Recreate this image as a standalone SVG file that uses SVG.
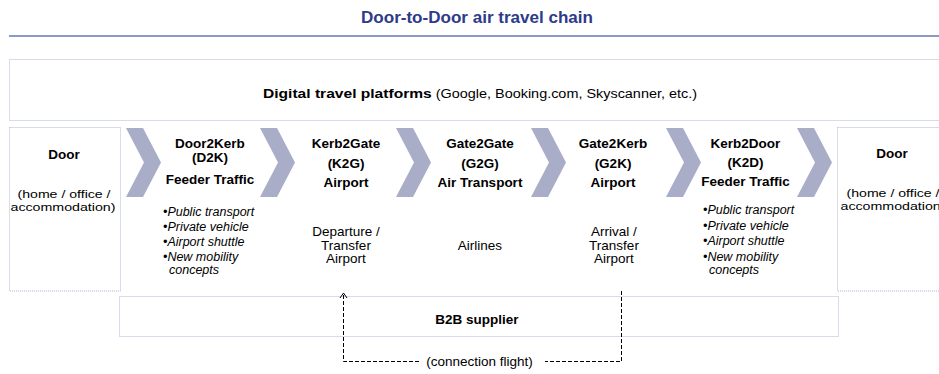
<svg xmlns="http://www.w3.org/2000/svg" width="939" height="374" viewBox="0 0 939 374">
<style>
text{font-family:"Liberation Sans",Arial,sans-serif;fill:#000}
.title{font-size:16px;font-weight:bold;fill:#2E3A8A}
.h{font-size:13.5px;font-weight:bold;text-anchor:middle}
.r{font-size:13.5px;text-anchor:middle}
.d{font-size:11.5px;text-anchor:middle}
.b{font-size:12.5px;font-style:italic}
.box{fill:none;stroke:#AEB7D6;stroke-width:1;stroke-dasharray:1 1}
.chev{fill:#A9ADC8}
.dash{fill:none;stroke:#000;stroke-width:1;stroke-dasharray:4 2}
</style>
<defs>
<marker id="open" markerWidth="10" markerHeight="10" refX="9" refY="5" orient="auto" markerUnits="userSpaceOnUse" viewBox="0 0 10 10">
<polyline points="4,1.5 9,5 4,8.5" fill="none" stroke="#000" stroke-width="1"/>
</marker>
</defs>

<g id="title">
<text class="title" x="477" y="22.5" text-anchor="middle" textLength="232" lengthAdjust="spacingAndGlyphs">Door-to-Door air travel chain</text>
<line x1="9" y1="36" x2="939" y2="36" stroke="#8C99C8" stroke-width="2"/>
</g>

<g id="digital">
<rect class="box" x="9.5" y="59.5" width="940" height="61"/>
<text x="263" y="97.5" font-size="12.5" textLength="434" lengthAdjust="spacingAndGlyphs"><tspan font-weight="bold" font-size="13.5">Digital travel platforms</tspan> (Google, Booking.com, Skyscanner, etc.)</text>
</g>

<g id="door-left">
<rect class="box" x="9.5" y="127.5" width="111" height="163.5"/>
<text class="h" x="64" y="159">Door</text>
<text class="d" x="64" y="197.5" textLength="93" lengthAdjust="spacingAndGlyphs">(home / office /</text>
<text class="d" x="63" y="210.5" textLength="105" lengthAdjust="spacingAndGlyphs">accommodation)</text>
</g>

<g id="chevrons">
<polygon class="chev" points="126,128 143,128 161,162.5 143,197 126,197 144,162.5"/>
<polygon class="chev" points="260,128 277,128 295,162.5 277,197 260,197 278,162.5"/>
<polygon class="chev" points="396,128 413,128 431,162.5 413,197 396,197 414,162.5"/>
<polygon class="chev" points="531,128 548,128 566,162.5 548,197 531,197 549,162.5"/>
<polygon class="chev" points="666,128 683,128 701,162.5 683,197 666,197 684,162.5"/>
<polygon class="chev" points="797,128 814,128 832,162.5 814,197 797,197 815,162.5"/>
</g>

<g id="d2k">
<text class="h" x="210" y="148">Door2Kerb</text>
<text class="h" x="210" y="162">(D2K)</text>
<text class="h" x="210" y="184">Feeder Traffic</text>
<text class="b" x="163" y="216">•Public transport</text>
<text class="b" x="163" y="231">•Private vehicle</text>
<text class="b" x="163" y="246">•Airport shuttle</text>
<text class="b" x="163" y="261">•New mobility</text>
<text class="b" x="169" y="273.5">concepts</text>
</g>

<g id="k2g">
<text class="h" x="346" y="148">Kerb2Gate</text>
<text class="h" x="346" y="168">(K2G)</text>
<text class="h" x="346" y="187">Airport</text>
<text class="r" x="346" y="236">Departure /</text>
<text class="r" x="346" y="249.5">Transfer</text>
<text class="r" x="346" y="263">Airport</text>
</g>

<g id="g2g">
<text class="h" x="480" y="148">Gate2Gate</text>
<text class="h" x="480" y="168">(G2G)</text>
<text class="h" x="480" y="187">Air Transport</text>
<text class="r" x="480" y="250">Airlines</text>
</g>

<g id="g2k">
<text class="h" x="613" y="148">Gate2Kerb</text>
<text class="h" x="613" y="168">(G2K)</text>
<text class="h" x="613" y="187">Airport</text>
<text class="r" x="614" y="236">Arrival /</text>
<text class="r" x="614" y="249.5">Transfer</text>
<text class="r" x="614" y="263">Airport</text>
</g>

<g id="k2d">
<text class="h" x="745.5" y="148">Kerb2Door</text>
<text class="h" x="745.5" y="167">(K2D)</text>
<text class="h" x="745.5" y="186">Feeder Traffic</text>
<text class="b" x="703" y="214">•Public transport</text>
<text class="b" x="703" y="230">•Private vehicle</text>
<text class="b" x="703" y="245">•Airport shuttle</text>
<text class="b" x="703" y="260.5">•New mobility</text>
<text class="b" x="709" y="273.5">concepts</text>
</g>

<g id="door-right">
<rect class="box" x="837.5" y="127.5" width="110" height="163.5"/>
<text class="h" x="892" y="158">Door</text>
<text class="d" x="893" y="196.5" textLength="93" lengthAdjust="spacingAndGlyphs">(home / office /</text>
<text class="d" x="893" y="209.5" textLength="105" lengthAdjust="spacingAndGlyphs">accommodation)</text>
</g>

<g id="b2b">
<rect class="box" x="119.5" y="296.5" width="719" height="40"/>
<text class="h" x="477" y="324">B2B supplier</text>
</g>

<g id="connectors">
<polyline class="dash" points="621.5,291 621.5,361.5 545,361.5"/>
<polyline class="dash" points="419,361.5 343.5,361.5 343.5,293" marker-end="url(#open)"/>
<text x="479.5" y="366" font-size="13.5" text-anchor="middle">(connection flight)</text>
</g>
</svg>
